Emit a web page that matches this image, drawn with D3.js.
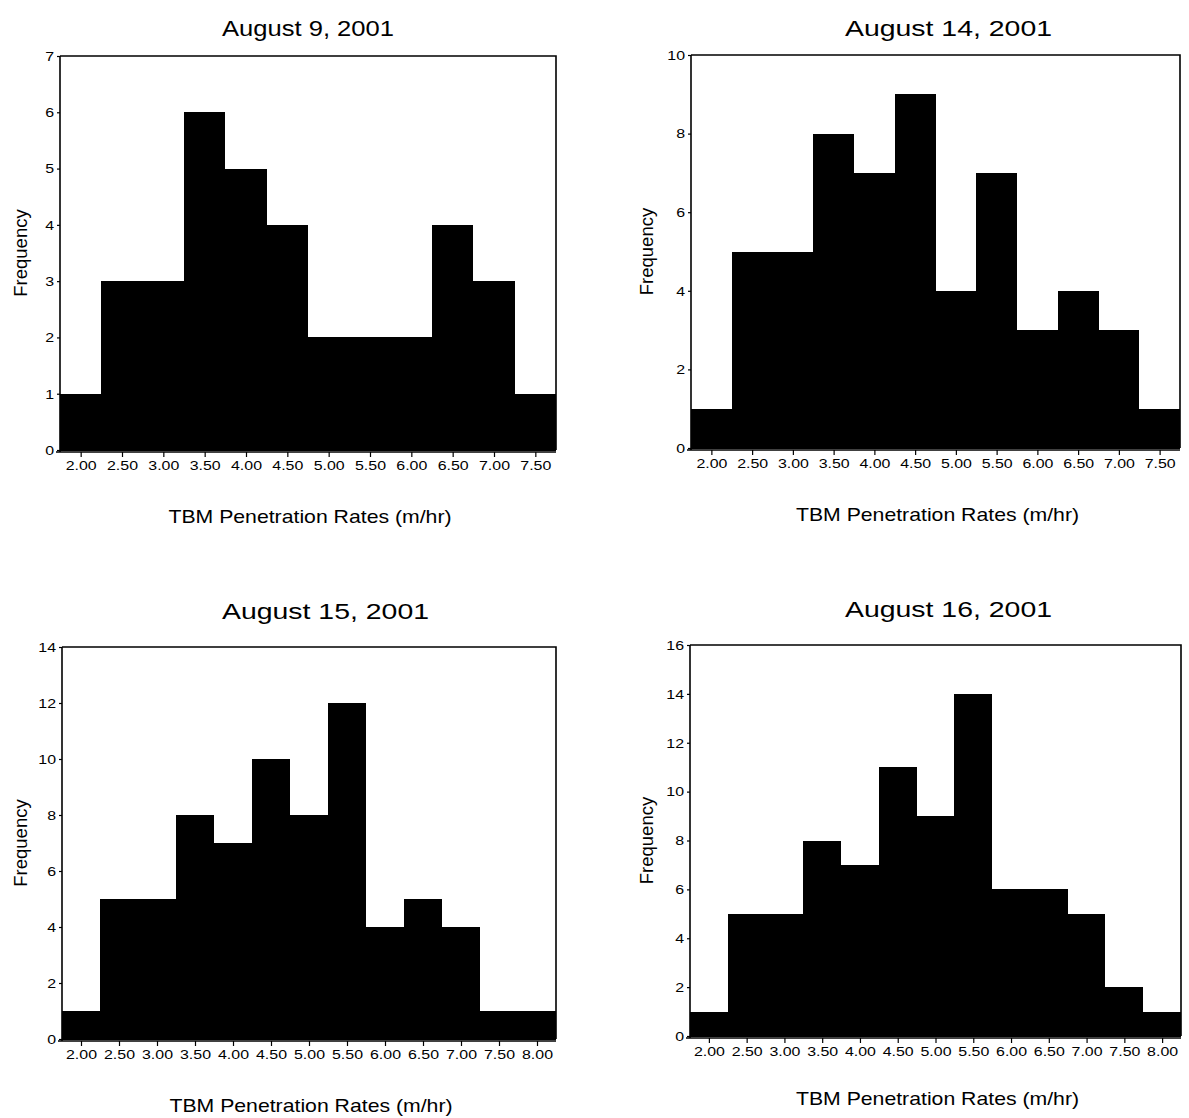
<!DOCTYPE html>
<html>
<head>
<meta charset="utf-8">
<script src="https://cdn.jsdelivr.net/npm/d3@7"></script>
<style>
  html, body { margin: 0; padding: 0; background: #fff; }
  svg { display: block; }
  text { font-family: "Liberation Sans", Arial, sans-serif; fill: #000; }
</style>
</head>
<body>
<svg id="chart" width="1189" height="1118"></svg>
<script>
// Bin centres (m/hr), 0.5 m/hr wide bins
const binsShort = [2.0, 2.5, 3.0, 3.5, 4.0, 4.5, 5.0, 5.5, 6.0, 6.5, 7.0, 7.5];
const binsLong  = [2.0, 2.5, 3.0, 3.5, 4.0, 4.5, 5.0, 5.5, 6.0, 6.5, 7.0, 7.5, 8.0];

// Frequencies per bin for each day
const freqAug09 = [1, 3, 3, 6, 5, 4, 2, 2, 2, 4, 3, 1];
const freqAug14 = [1, 5, 5, 8, 7, 9, 4, 7, 3, 4, 3, 1];
const freqAug15 = [1, 5, 5, 8, 7, 10, 8, 12, 4, 5, 4, 1, 1];
const freqAug16 = [1, 5, 5, 8, 7, 11, 9, 14, 6, 6, 5, 2, 1];

// Panel titles and axis ranges
const titles = ["August 9, 2001", "August 14, 2001", "August 15, 2001", "August 16, 2001"];
const yMax   = [7, 10, 14, 16];
const yStep  = [1, 2, 2, 2];
const xLabel = "TBM Penetration Rates (m/hr)";
const yLabel = "Frequency";

const binWidth = 0.5;
const sx = 1.18; // horizontal text stretch

const panels = [
  { bins: binsShort, freq: freqAug09, title: titles[0], ymax: yMax[0], ystep: yStep[0],
    box: { l: 60, r: 556, t: 56, b: 450 }, titleX: 222, titleY: 36, xtY: 518, ylX: 27 },
  { bins: binsShort, freq: freqAug14, title: titles[1], ymax: yMax[1], ystep: yStep[1],
    box: { l: 691, r: 1180, t: 55, b: 448 }, titleX: 845, titleY: 36, xtY: 516, ylX: 653 },
  { bins: binsLong, freq: freqAug15, title: titles[2], ymax: yMax[2], ystep: yStep[2],
    box: { l: 62, r: 556, t: 647, b: 1039 }, titleX: 222, titleY: 619, xtY: 1107, ylX: 27 },
  { bins: binsLong, freq: freqAug16, title: titles[3], ymax: yMax[3], ystep: yStep[3],
    box: { l: 690, r: 1181, t: 645, b: 1036 }, titleX: 845, titleY: 617, xtY: 1100, ylX: 653 }
];

const svg = d3.select("#chart");

function stretch(sel) {
  sel.each(function () {
    const t = d3.select(this);
    const x = +t.attr("x") || 0;
    t.attr("transform", `translate(${x * (1 - sx)},0) scale(${sx},1)`);
  });
}

panels.forEach(p => {
  const g = svg.append("g");
  const lo = p.bins[0] - binWidth / 2;
  const hi = p.bins[p.bins.length - 1] + binWidth / 2;

  const x = d3.scaleLinear().domain([lo, hi]).range([p.box.l, p.box.r]);
  const y = d3.scaleLinear().domain([0, p.ymax]).range([p.box.b, p.box.t]);

  // Histogram bars
  g.selectAll("rect.bar")
    .data(p.bins.map((b, i) => ({ b, f: p.freq[i] })))
    .join("rect")
    .attr("class", "bar")
    .attr("shape-rendering", "crispEdges")
    .attr("x", d => Math.round(x(d.b - binWidth / 2)))
    .attr("width", d => Math.round(x(d.b + binWidth / 2)) - Math.round(x(d.b - binWidth / 2)))
    .attr("y", d => y(d.f))
    .attr("height", d => y(0) - y(d.f) + 1)
    .attr("fill", "#000");

  // Frame (top and right)
  g.append("path")
    .attr("d", `M${p.box.l},${p.box.t}H${p.box.r}V${p.box.b}`)
    .attr("fill", "none")
    .attr("stroke", "#000")
    .attr("stroke-width", 1.6);

  // Y axis
  const yTicks = d3.range(0, p.ymax + 0.001, p.ystep);
  const ya = g.append("g")
    .attr("transform", `translate(${p.box.l},0)`)
    .call(d3.axisLeft(y).tickValues(yTicks).tickFormat(d3.format("d")).tickSize(3).tickPadding(3));
  ya.select(".domain").attr("stroke-width", 1.6).attr("d", `M0,${p.box.t}V${p.box.b + 2}`);
  ya.selectAll("line").attr("stroke-width", 1.2);
  ya.selectAll("text").attr("font-size", 13.5).attr("font-family", "Liberation Sans, Arial, sans-serif").call(stretch);

  // X axis
  const xa = g.append("g")
    .attr("transform", `translate(0,${p.box.b + 2})`)
    .call(d3.axisBottom(x).tickValues(p.bins).tickFormat(d3.format(".2f")).tickSize(5).tickPadding(3));
  xa.select(".domain").attr("stroke-width", 1.4).attr("d", `M${p.box.l - 4},0H${p.box.r}`);
  xa.selectAll("line").attr("stroke-width", 1.2);
  xa.selectAll("text").attr("font-size", 13.5).attr("font-family", "Liberation Sans, Arial, sans-serif").call(stretch);

  // Titles
  g.append("text")
    .attr("x", p.titleX).attr("y", p.titleY)
    .attr("font-size", 22)
    .attr("textLength", p.title.length > 14 ? 207 : 172)
    .attr("lengthAdjust", "spacingAndGlyphs")
    .text(p.title);

  g.append("text")
    .attr("x", (p.box.l + p.box.r) / 2 + 2).attr("y", p.xtY)
    .attr("text-anchor", "middle")
    .attr("dominant-baseline", "middle")
    .attr("font-size", 18)
    .text(xLabel)
    .call(stretch);

  g.append("text")
    .attr("transform", `translate(${p.ylX},${(p.box.t + p.box.b) / 2}) rotate(-90)`)
    .attr("text-anchor", "middle")
    .attr("font-size", 18.5)
    .text(yLabel);
});
</script>
</body>
</html>
